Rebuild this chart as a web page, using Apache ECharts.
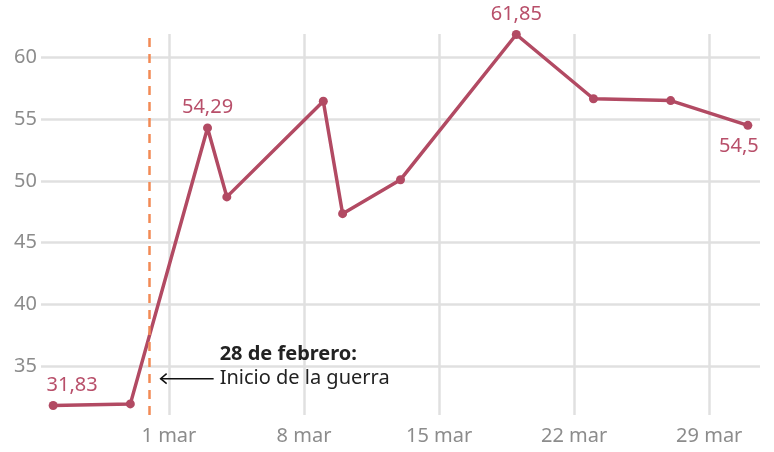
<!DOCTYPE html>
<html>
<head>
<meta charset="utf-8">
<script src="https://cdn.jsdelivr.net/npm/echarts@6/dist/echarts.min.js"></script>
<style>
  html, body { margin: 0; padding: 0; background: #fff; }
  #chart { width: 774px; height: 452px; }
</style>
</head>
<body>
<div id="chart"></div>
<script>
// datos
const dates = ['2026-02-23', '2026-02-27', '2026-03-03', '2026-03-04', '2026-03-09', '2026-03-10',
  '2026-03-13', '2026-03-19', '2026-03-23', '2026-03-27', '2026-03-31'];
const values = [31.83, 31.96, 54.29, 48.71, 56.45, 47.35, 50.1, 61.85, 56.65, 56.5, 54.5];
const labelledPoints = [0, 2, 7, 10];
const xTicks = ['2026-03-01', '2026-03-08', '2026-03-15', '2026-03-22', '2026-03-29'];
const yTicks = [35, 40, 45, 50, 55, 60];
const months = ['ene', 'feb', 'mar', 'abr', 'may', 'jun', 'jul', 'ago', 'sep', 'oct', 'nov', 'dic'];
const warStart = '2026-02-28';
const noteTitle = '28 de febrero:';
const noteText = 'Inicio de la guerra';

const DAY = 864e5;
const FONT = '"Noto Sans", sans-serif';
const ts = s => {
  const [y, m, d] = s.split('-').map(Number);
  return Date.UTC(y, m - 1, d);
};
const fmtNum = v => String(v).replace('.', ',');

const labelStyle = {
  0: { position: 'top', offset: [19, 0] },
  2: { position: 'top' },
  7: { position: 'top' },
  10: { position: 'bottom', offset: [-9, 0] }
};

const seriesData = dates.map((d, i) => {
  const item = { value: [ts(d), values[i]] };
  if (labelledPoints.includes(i)) {
    item.label = Object.assign({ show: true }, labelStyle[i]);
  }
  return item;
});

const chart = echarts.init(document.getElementById('chart'));
chart.setOption({
  animation: false,
  grid: { left: 41, right: 14, top: 34, bottom: 37 },
  xAxis: {
    type: 'value',
    min: ts(dates[0]) - 0.63 * DAY,
    max: ts(dates[dates.length - 1]) + 0.63 * DAY,
    axisLine: { show: false },
    axisTick: { show: false, customValues: xTicks.map(ts) },
    axisLabel: {
      customValues: xTicks.map(ts),
      formatter: v => {
        const dt = new Date(v);
        return dt.getUTCDate() + ' ' + months[dt.getUTCMonth()];
      },
      color: '#8c8c8c',
      fontSize: 20,
      fontFamily: FONT,
      margin: 11
    },
    splitLine: { show: true, lineStyle: { color: '#e0e0e0', width: 2.5 } }
  },
  yAxis: {
    type: 'value',
    min: 31.06,
    max: 61.89,
    axisLine: { show: false },
    axisTick: { show: false, customValues: yTicks },
    axisLabel: {
      customValues: yTicks,
      color: '#8c8c8c',
      fontSize: 20,
      fontFamily: FONT,
      margin: 4
    },
    splitLine: { show: true, lineStyle: { color: '#e0e0e0', width: 2.5 } }
  },
  series: [
    {
      type: 'line',
      data: seriesData,
      symbol: 'circle',
      symbolSize: 9,
      showAllSymbol: true,
      lineStyle: { color: '#b24a63', width: 3.5 },
      itemStyle: { color: '#b24a63' },
      label: {
        show: false,
        color: '#b84f6a',
        fontSize: 20,
        fontFamily: FONT,
        distance: 6,
        formatter: p => fmtNum(p.value[1])
      },
      markLine: {
        silent: true,
        symbol: 'none',
        label: { show: false },
        lineStyle: { color: '#f28a55', type: [9, 7], width: 2.5 },
        data: [{ xAxis: ts(warStart) }]
      }
    }
  ]
});

// anotación: flecha y texto junto a la línea discontinua
const [xw, ya] = chart.convertToPixel({ gridIndex: 0 }, [ts(warStart), 34]);
chart.setOption({
  graphic: [
    { type: 'line', shape: { x1: xw + 64, y1: ya, x2: xw + 11, y2: ya },
      style: { stroke: '#111', lineWidth: 1.5 } },
    { type: 'polyline', shape: { points: [[xw + 17, ya - 5], [xw + 11, ya], [xw + 17, ya + 5]] },
      style: { stroke: '#111', lineWidth: 1.5, fill: null } },
    { type: 'text', x: xw + 70, y: ya - 24,
      style: { text: noteTitle, font: 'bold 20px ' + FONT, fill: '#222', verticalAlign: 'middle' } },
    { type: 'text', x: xw + 70, y: ya,
      style: { text: noteText, font: '20px ' + FONT, fill: '#222', verticalAlign: 'middle' } }
  ]
});
</script>
</body>
</html>
